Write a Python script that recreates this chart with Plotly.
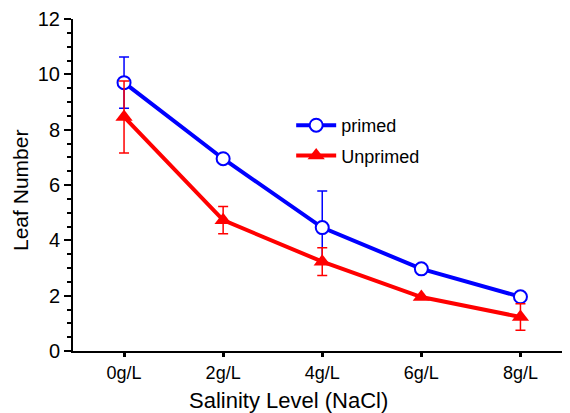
import plotly.graph_objects as go

categories = ["0g/L", "2g/L", "4g/L", "6g/L", "8g/L"]
primed = [9.7, 6.95, 4.46, 2.97, 1.96]
primed_err = [0.93, 0.0, 1.32, 0.0, 0.0]
unprimed = [8.46, 4.73, 3.23, 1.95, 1.23]
unprimed_err = [1.3, 0.49, 0.5, 0.0, 0.48]

xpos = list(range(len(categories)))
font_family = "Liberation Sans, Arial, sans-serif"

fig = go.Figure()
fig.add_trace(go.Scatter(
    x=xpos, y=primed, name="primed", mode="lines+markers", legendgroup="a",
    line=dict(color="#0000FF", width=4),
    marker=dict(symbol="circle", size=13, color="white",
                line=dict(color="#0000FF", width=2)),
    error_y=dict(type="data", array=primed_err, visible=True,
                 color="#0000FF", thickness=1.5, width=5),
))
fig.add_trace(go.Scatter(
    x=xpos, y=unprimed, name="Unprimed", mode="lines+markers", legendgroup="b",
    line=dict(color="#FF0000", width=4),
    marker=dict(symbol="triangle-up", size=15, color="#FF0000",
                line=dict(color="#FF0000", width=0)),
    error_y=dict(type="data", array=unprimed_err, visible=True,
                 color="#FF0000", thickness=1.5, width=5),
))

fig.update_layout(
    width=562, height=405,
    margin=dict(l=65, r=0, t=11, b=62),
    paper_bgcolor="white", plot_bgcolor="white",
    font=dict(family=font_family, color="black"),
    showlegend=True,
    legend=dict(x=0.439, y=0.735, xanchor="left", yanchor="top",
                bgcolor="rgba(0,0,0,0)", font=dict(size=18, family=font_family),
                traceorder="grouped", tracegroupgap=4, itemwidth=40),
    xaxis=dict(
        range=[-0.515, 4.5], tickmode="array", tickvals=xpos, ticktext=categories,
        showline=True, linecolor="black", linewidth=2, showgrid=False, zeroline=False,
        ticks="outside", ticklen=4, tickwidth=3, tickcolor="black",
        tickfont=dict(size=18, family=font_family),
    ),
    yaxis=dict(
        range=[0, 12], tickmode="linear", tick0=0, dtick=2,
        showline=True, linecolor="black", linewidth=2, showgrid=False, zeroline=False,
        ticks="outside", ticklen=7, tickwidth=2, tickcolor="black",
        tickfont=dict(size=20, family=font_family),
        minor=dict(dtick=0.5, ticks="outside", ticklen=4, tickwidth=2, tickcolor="black", showgrid=False),
    ),
    annotations=[
        dict(text="Salinity Level (NaCl)", xref="paper", yref="paper",
             x=0.4346, y=-0.1506, xanchor="center", yanchor="middle", showarrow=False,
             font=dict(size=22, family=font_family, color="black")),
        dict(text="Leaf Number", xref="paper", yref="paper", textangle=-90,
             x=-0.1046, y=0.482, xanchor="center", yanchor="middle", showarrow=False,
             font=dict(size=21, family=font_family, color="black")),
    ],
)

fig.write_html("out.html")
